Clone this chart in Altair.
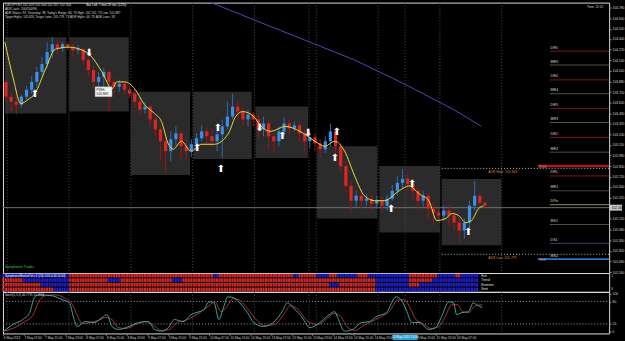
import json
import altair as alt
import pandas as pd

FONT = "Liberation Sans"

# ---------------- time axis (hour index, 0 = 6 May 2013 23:00) ----------------
time_label_hours = [0, 8, 16, 24, 32, 40, 48, 56, 64, 72, 80, 88, 96, 104, 112, 120,
                    128, 136, 144, 160, 168, 176]
time_labels = ["6 May 2013", "7 May 07:00", "7 May 15:00", "7 May 23:00", "8 May 07:00",
               "8 May 15:00", "8 May 23:00", "9 May 07:00", "9 May 15:00", "9 May 23:00",
               "10 May 07:00", "10 May 15:00", "10 May 23:00", "13 May 07:00", "13 May 15:00",
               "13 May 23:00", "14 May 07:00", "14 May 15:00", "14 May 23:00",
               "15 May 15:00", "15 May 23:00", "16 May 07:00"]
cursor_time_hour = 156.0
cursor_time_label = "15 May 2013 11:00"
separator_hours = [1.5, 25.5, 49.5, 73.5, 97.5, 121.5, 145.5, 169.5, 193.5]
extra_separator_hours = [118.7, 156.0]

# ---------------- price axis ----------------
price_ticks = [104.780, 104.650, 104.520, 104.400, 104.270, 104.140, 104.010, 103.880,
               103.750, 103.620, 103.490, 103.370, 103.240, 103.110, 102.980, 102.850,
               102.720, 102.600, 102.470, 102.210, 102.080, 101.950, 101.820,
               101.690, 101.560]
cursor_price = 102.346

# ---------------- two-hour candles ----------------
bar_hours = list(range(1, 188, 2))
first_open = 103.876
closes = [103.696, 103.635, 103.599, 103.696, 103.780, 103.876, 103.997, 104.093, 104.238, 104.334, 104.286, 104.334,
          104.298, 104.262, 104.274, 104.141, 104.021, 103.876, 103.936, 103.997, 103.876, 103.816, 103.852, 103.780,
          103.732, 103.635, 103.539, 103.575, 103.419, 103.298, 103.154, 103.033, 103.178, 103.250, 103.093, 103.033,
          103.117, 103.190, 103.274, 103.214, 103.154, 103.238, 103.334, 103.455, 103.575, 103.515, 103.419, 103.479,
          103.419, 103.298, 103.370, 103.214, 103.154, 103.274, 103.370, 103.310, 103.346, 103.250, 103.154, 103.202,
          103.129, 103.057, 103.154, 103.274, 103.093, 102.852, 102.611, 102.431, 102.491, 102.431, 102.455, 102.394,
          102.431, 102.370, 102.455, 102.551, 102.647, 102.696, 102.635, 102.551, 102.431, 102.491, 102.334, 102.286,
          102.250, 102.310, 102.250, 102.165, 102.069, 102.165, 102.370, 102.491, 102.406, 102.370]
highs = [103.912, 103.756, 103.696, 103.720, 103.828, 103.948, 104.057, 104.177, 104.358, 104.418, 104.382, 104.358,
         104.358, 104.334, 104.322, 104.298, 104.177, 104.069, 103.997, 104.045, 104.021, 103.924, 103.900, 103.876,
         103.828, 103.780, 103.684, 103.635, 103.599, 103.455, 103.334, 103.214, 103.274, 103.334, 103.274, 103.178,
         103.178, 103.250, 103.346, 103.322, 103.298, 103.334, 103.419, 103.635, 103.732, 103.635, 103.587, 103.539,
         103.515, 103.479, 103.455, 103.419, 103.274, 103.334, 103.443, 103.419, 103.394, 103.394, 103.298, 103.274,
         103.250, 103.178, 103.214, 103.370, 103.310, 103.129, 102.913, 102.672, 102.551, 102.551, 102.515, 102.503,
         102.491, 102.479, 102.503, 102.623, 102.732, 102.816, 102.768, 102.672, 102.587, 102.551, 102.527, 102.406,
         102.358, 102.370, 102.370, 102.310, 102.226, 102.214, 102.431, 102.672, 102.527, 102.431]
lows = [103.635, 103.515, 103.479, 103.563, 103.659, 103.732, 103.804, 103.948, 104.045, 104.165, 104.214, 104.238,
        104.262, 104.177, 104.214, 104.081, 103.936, 103.816, 103.816, 103.756, 103.515, 103.732, 103.756, 103.720,
        103.684, 103.563, 103.467, 103.491, 103.334, 103.214, 102.913, 102.768, 102.913, 103.093, 102.937, 102.913,
        102.961, 103.033, 103.154, 103.129, 103.081, 103.033, 102.949, 103.298, 103.419, 103.419, 103.334, 103.334,
        103.334, 103.178, 103.214, 103.057, 103.009, 103.093, 103.214, 103.226, 103.274, 103.154, 103.033, 103.069,
        103.033, 102.961, 103.009, 103.093, 103.009, 102.768, 102.527, 102.310, 102.346, 102.334, 102.370, 102.310,
        102.334, 102.286, 102.310, 102.431, 102.491, 102.575, 102.551, 102.455, 102.310, 102.358, 102.214, 102.129,
        102.165, 102.190, 102.129, 102.069, 101.913, 101.973, 102.093, 102.310, 102.358, 102.346]

# ---------------- yellow smoothed average ----------------
ma_hours = [0.6, 3.7, 6.8, 9.5, 12.2, 16.4, 20.2, 25.6, 30.6, 33.7, 38.3, 42.2, 44.1, 47.2, 51.0, 54.8,
            58.7, 61.4, 64.1, 66.0, 69.1, 72.9, 76.8, 81.8, 87.2, 90.2, 92.9, 97.2, 99.8, 103.7, 109.5,
            115.2, 121.0, 124.8, 128.7, 132.5, 136.4, 140.2, 144.1, 147.9, 153.7, 157.5, 161.4, 165.2,
            168.3, 171.8, 174.1, 176.8, 179.5, 181.8, 184.5, 186.4]
ma_prices = [104.358, 103.936, 103.611, 103.659, 103.732, 104.033, 104.274, 104.298, 104.262, 104.201,
             103.997, 103.792, 103.876, 103.876, 103.792, 103.599, 103.491, 103.394, 103.117, 103.057,
             103.154, 103.033, 103.117, 103.117, 103.238, 103.455, 103.515, 103.455, 103.346, 103.274,
             103.334, 103.274, 103.154, 103.093, 103.154, 103.033, 102.732, 102.491, 102.431, 102.431,
             102.551, 102.611, 102.515, 102.431, 102.190, 102.214, 102.274, 102.250, 102.165, 102.190,
             102.334, 102.370]

# ---------------- slow (purple) average ----------------
slow_hours = [78.7, 88.3, 97.9, 107.5, 117.2, 126.8, 136.4, 146.0, 155.6, 165.2, 174.8, 185.6]
slow_prices = [104.864, 104.744, 104.623, 104.503, 104.382, 104.262, 104.141, 103.997, 103.852,
               103.696, 103.539, 103.334]

# ---------------- session boxes ----------------
box_start = [0.6, 25.6, 49.5, 73.7, 97.9, 121.8, 146.0, 170.2]
box_end = [24.5, 48.7, 72.5, 96.4, 118.3, 145.2, 169.5, 193.3]
box_top = [104.418, 104.418, 103.756, 103.756, 103.575, 103.093, 102.852, 102.696]
box_bottom = [103.491, 103.515, 102.744, 102.937, 102.949, 102.214, 102.045, 101.888]

# ---------------- signal arrows ----------------
arrow_hours = [12.2, 33.3, 75.2, 83.3, 84.5, 99.5, 108.3, 118.3, 129.5, 128.7, 150.6, 158.7, 180.6]
arrow_prices = [103.732, 104.226, 103.069, 103.310, 102.816, 103.310, 103.214, 103.250, 103.262,
                102.949, 102.334, 102.635, 102.045]
arrow_dirs = ["up", "down", "up", "up", "up", "down", "up", "down", "up", "up", "up", "up", "up"]

# ---------------- pivot levels ----------------
level_names = ["DR5", "MR5", "DR4", "MR4", "DR3", "MR3", "DR2", "MR2", "DR1", "MR1", "DPiv", "MS1", "DS1", "MS2"]
level_prices = [104.250, 104.081, 103.900, 103.732, 103.551, 103.382, 103.201, 103.021, 102.732,
                102.551, 102.382, 102.141, 101.912, 101.720]
level_colors = ["#7c1a1a", "#55553c", "#7c1a1a", "#55553c", "#7c1a1a", "#55553c", "#7c1a1a", "#55553c",
                "#7c1a1a", "#44443a", "#8c8c5c", "#55553c", "#3c3c70", "#2f70c8"]
level_widths = [1, 1, 1, 1, 1, 1, 1, 1, 1, 1, 1, 1, 1, 2]
quarter_names = ["R1/4", "S1/4"]
quarter_prices = [102.852, 101.720]
adr_names = ["ADR High: 102.824", "ADR Low: 101.779"]
adr_prices = [102.824, 101.779]

# ---------------- heat map rows ----------------
heat_rows = ["Exit", "Trend", "Extreme", "Sent"]
heat_bounds = [[0, 26, 82, 84, 113, 115, 122, 127, 130, 138, 142, 158, 169, 176, 178, 185],
               [0, 8, 26, 41, 46, 66, 70, 145, 158, 167, 185],
               [0, 15, 26, 127, 131, 145, 158, 162, 185],
               [0, 20, 26, 145, 185]]
heat_colors = ["BRBRBRBRBRBRBRB", "RBRBRBRBRB", "RBRBRBRB", "RBRB"]
heat_palette = {"R": "#d42828", "B": "#1e1ec8"}

# ---------------- stochastic ----------------
k_hours = [0, 3.7, 7.5, 10.2, 12.2, 14.1, 19.1, 22.9, 25.6, 27.5, 28.7, 31.8, 35.2, 38.3, 40.2, 42.2,
           44.8, 48.7, 52.5, 56.4, 58.7, 61.4, 64.1, 66.4, 69.8, 72.9, 74.8, 77.9, 79.8, 81.8, 83.7,
           85.2, 87.2, 89.5, 91.4, 94.8, 97.2, 101.0, 104.8, 108.7, 110.2, 112.5, 115.2, 119.1, 122.9,
           125.6, 128.7, 129.8, 132.5, 135.6, 139.1, 142.2, 144.8, 148.7, 152.5, 154.5, 156.4, 158.7,
           161.4, 165.2, 167.9, 170.2, 172.9, 174.8, 176.0, 177.9, 180.6, 182.5, 183.7, 186.0]
k_vals = [0, 18.4, 31.6, 50.0, 92.1, 97.4, 94.7, 84.2, 76.3, 31.6, 13.2, 26.3, 23.7, 36.8, 44.7, 13.2,
          5.3, 13.2, 23.7, 26.3, 5.3, 1.0, 10.5, 31.6, 26.3, 44.7, 50.0, 57.9, 78.9, 76.3, 31.6, 57.9,
          92.1, 89.5, 78.9, 50.0, 23.7, 13.2, 23.7, 57.9, 76.3, 63.2, 44.7, 10.5, 23.7, 39.5, 52.6, 36.8,
          1.0, 5.3, 23.7, 26.3, 39.5, 50.0, 92.1, 84.2, 57.9, 23.7, 23.7, 5.3, 10.5, 39.5, 78.9, 76.3,
          44.7, 50.0, 52.6, 76.3, 71.1, 63.2]
d_hours = [0, 4.5, 8.3, 11.4, 13.7, 16.0, 19.8, 23.7, 26.8, 29.1, 30.6, 33.7, 36.8, 39.8, 42.2, 44.5,
           47.5, 51.4, 55.2, 58.3, 61.4, 64.5, 67.5, 70.6, 73.7, 76.8, 79.8, 82.2, 84.5, 86.8, 89.1,
           91.4, 94.5, 97.5, 101.4, 105.2, 109.1, 111.4, 114.5, 118.3, 122.2, 125.2, 128.3, 130.6,
           133.7, 136.8, 139.8, 142.9, 146.0, 149.8, 153.3, 155.6, 157.9, 160.2, 162.9, 166.0, 169.1,
           171.4, 174.1, 176.4, 178.3, 180.6, 183.3, 186.0]
d_vals = [0.5, 10.5, 26.3, 42.1, 78.9, 94.7, 97.4, 89.5, 71.1, 36.8, 21.1, 23.7, 28.9, 36.8, 31.6, 10.5,
          7.9, 18.4, 26.3, 15.8, 2.6, 5.3, 23.7, 28.9, 39.5, 52.6, 68.4, 78.9, 52.6, 65.8, 86.8, 84.2,
          63.2, 36.8, 15.8, 18.4, 47.4, 68.4, 57.9, 26.3, 18.4, 31.6, 47.4, 42.1, 10.5, 2.6, 15.8, 26.3,
          36.8, 52.6, 84.2, 84.2, 63.2, 31.6, 21.1, 7.9, 13.2, 36.8, 71.1, 71.1, 52.6, 50.0, 68.4, 71.1]
sto_levels = [20, 80]

# =====================================================================
W = 612
H_MAIN, H_HEAT, H_STO = 273, 19, 42
xs = alt.Scale(domain=[-0.154, 235.23], nice=False, zero=False)
ys_main = alt.Scale(domain=[101.551, 104.840], nice=False, zero=False)
ys_sto = alt.Scale(domain=[-5.3, 105.3], nice=False, zero=False)

main_axis = alt.Axis(orient="right", values=price_ticks, format=".3f", labelFontSize=3.3,
                     labelColor="#d6d6d6", tickColor="#8a8a8a", tickSize=2, domain=False,
                     grid=False, labelPadding=1, labelOverlap=False, labelFlush=False,
                     title=None, labelFont=FONT)


def XH(f):
    return alt.X(f, type="quantitative", scale=xs, axis=None)


def YM(f):
    return alt.Y(f, type="quantitative", scale=ys_main, axis=main_axis)


def label(text, x, y, size=3.3, color="#d8d8d8", align="left", weight="normal"):
    return alt.Chart(pd.DataFrame({"t": [text]})).mark_text(
        align=align, baseline="middle", fontSize=size, color=color, fontWeight=weight, font=FONT
    ).encode(x=alt.value(x), y=alt.value(y), text="t:N")


# ---- main panel data ----
opens = [first_open] + closes[:-1]
candles = pd.DataFrame({"h": bar_hours, "open": opens, "close": closes, "high": highs, "low": lows})
up = [c >= o for o, c in zip(opens, closes)]
candles["body"] = ["#3b8fe6" if u else "#e02424" for u in up]
candles["wick"] = ["#2c6bb3" if u else "#a01515" for u in up]
candles["h0"] = candles["h"] - 0.62
candles["h1"] = candles["h"] + 0.62

boxes = pd.DataFrame({"a": box_start, "b": box_end, "t": box_top, "u": box_bottom})
seps = pd.DataFrame({"h": separator_hours + extra_separator_hours})
levels = pd.DataFrame({"n": level_names, "p": level_prices, "c": level_colors, "w": level_widths})
levels["a"] = 212.2
levels["b"] = 235.2
levels.loc[levels["n"] == "MS2", "a"] = 207.5
levels["lx"] = 212.5
quarters = pd.DataFrame({"n": quarter_names, "p": quarter_prices, "lx": 208.0})
red_quarter = pd.DataFrame({"p": [quarter_prices[0]], "a": [207.5], "b": [235.2]})
adr = pd.DataFrame({"n": adr_names, "p": adr_prices, "a": 170.2, "b": 235.2, "lx": 188.3})
ma = pd.DataFrame({"h": ma_hours, "p": ma_prices})
slow = pd.DataFrame({"h": slow_hours, "p": slow_prices})
arrows = pd.DataFrame({"h": arrow_hours, "p": arrow_prices, "d": arrow_dirs})
arrows["s"] = ["\u2b06" if d == "up" else "\u2b07" for d in arrows["d"]]
cursor = pd.DataFrame({"p": [cursor_price], "hi": [cursor_price + 0.036], "lo": [cursor_price - 0.036],
                       "a": [-0.154], "b": [235.2], "t": [f"{cursor_price:.3f}"]})

box_layer = alt.Chart(boxes).mark_rect(color="#2b2b2b").encode(
    x=XH("a"), x2=alt.X2("b"), y=YM("t"), y2=alt.Y2("u"))
sep_layer = alt.Chart(seps).mark_rule(color="#4e4e4e", strokeDash=[1, 2], strokeWidth=1).encode(x=XH("h"))
cross_layer = alt.Chart(cursor).mark_rule(color="#707070", strokeWidth=1).encode(
    x=XH("a"), x2=alt.X2("b"), y=YM("p"))
level_layer = alt.Chart(levels).mark_rule().encode(
    x=XH("a"), x2=alt.X2("b"), y=YM("p"), color=alt.Color("c:N", scale=None),
    strokeWidth=alt.StrokeWidth("w:Q", scale=None))
quarter_red = alt.Chart(red_quarter).mark_rule(color="#a81c1c", strokeWidth=2.5).encode(
    x=XH("a"), x2=alt.X2("b"), y=YM("p"))
adr_layer = alt.Chart(adr).mark_rule(color="#bdbdbd", strokeDash=[1, 2], strokeWidth=1).encode(
    x=XH("a"), x2=alt.X2("b"), y=YM("p"))
adr_text = alt.Chart(adr).mark_text(align="left", baseline="top", dy=1.5, fontSize=3.4,
                                    color="#d08a3c", font=FONT).encode(
    x=XH("lx"), y=YM("p"), text="n:N")
level_text = alt.Chart(levels).mark_text(align="left", baseline="bottom", dy=-1.5, fontSize=3.6,
                                         color="#d8d8d8", font=FONT).encode(
    x=XH("lx"), y=YM("p"), text="n:N")
quarter_text = alt.Chart(quarters).mark_text(align="left", baseline="middle", dy=1, fontSize=3.4,
                                             color="#d8a060", font=FONT).encode(
    x=XH("lx"), y=YM("p"), text="n:N")
slow_layer = alt.Chart(slow).mark_line(color="#4b4bb4", strokeWidth=1, clip=True,
                                       interpolate="monotone").encode(x=XH("h"), y=YM("p"))
wick_layer = alt.Chart(candles).mark_rule(strokeWidth=1).encode(
    x=XH("h"), y=YM("low"), y2=alt.Y2("high"), color=alt.Color("wick:N", scale=None))
body_layer = alt.Chart(candles).mark_rect().encode(
    x=XH("h0"), x2=alt.X2("h1"), y=YM("open"), y2=alt.Y2("close"), color=alt.Color("body:N", scale=None))
ma_layer = alt.Chart(ma).mark_line(color="#e6dc3c", strokeWidth=1, interpolate="monotone").encode(
    x=XH("h"), y=YM("p"))
arrow_layer = alt.Chart(arrows).mark_text(fontSize=10, color="white", font="DejaVu Sans",
                                          baseline="middle").encode(
    x=XH("h"), y=YM("p"), text="s:N")
price_box = alt.Chart(cursor).mark_rect(color="#c8c8c8").encode(
    x=alt.value(612.5), x2=alt.value(625), y=YM("hi"), y2=alt.Y2("lo"))
price_txt = alt.Chart(cursor).mark_text(align="left", baseline="middle", fontSize=3.3, color="black",
                                        font=FONT).encode(x=alt.value(614.5), y=YM("p"), text="t:N")
note_box = alt.Chart(pd.DataFrame({"a": [35.6], "b": [42.2], "t": [103.816], "u": [103.696]})).mark_rect(
    color="#f2f2f2", stroke="#999999", strokeWidth=0.5).encode(
    x=XH("a"), x2=alt.X2("b"), y=YM("t"), y2=alt.Y2("u"))
note_txt = alt.Chart(pd.DataFrame({"h": [36.1, 36.1], "p": [103.782, 103.732],
                                   "t": ["PWHi", "103,869"]})).mark_text(
    align="left", baseline="middle", fontSize=3.3, color="#222222", font=FONT).encode(
    x=XH("h"), y=YM("p"), text="t:N")

main = alt.layer(
    box_layer, sep_layer, cross_layer, level_layer, quarter_red, adr_layer, slow_layer,
    wick_layer, body_layer, ma_layer, arrow_layer, level_text, quarter_text, adr_text,
    note_box, note_txt, price_box, price_txt,
    label("USDJPY,H1  102.419 102.444 102.307 102.358", 2, 2.8, 3.2),
    label("Bar Left: 7 min 29 sec (12%)", 84, 2.8, 3.2, "#ffffff"),
    label("ADR Lock: 100/100/96", 2, 6.8, 3.2),
    label("ADR Values: 93, Yesterday: 98, Today's Range: 66, TV High: 102.702, TV Low: 101.897", 2, 10.8, 3.0),
    label("Target Highs: 102.824, Target Lows: 101.779, TV ADR Highs: 46, TV ADR Lows: 59", 2, 14.8, 3.0),
    label("Time: 11:52", 606, 4, 3.2, "#d8d8d8", "right"),
    label("Symphonie Trader", 2, 266.5, 3.6, "#3fc04a"),
).properties(width=W, height=H_MAIN)

# ---- heat map panel ----
cells = []
for name, bounds, cols in zip(heat_rows, heat_bounds, heat_colors):
    for a, b, c in zip(bounds[:-1], bounds[1:], cols):
        for h in range(a, b):
            cells.append({"row": name, "h0": h - 0.45, "h1": h + 0.4, "c": heat_palette[c]})
cells = pd.DataFrame(cells)
heat_y = alt.Y("row:N", sort=heat_rows, scale=alt.Scale(paddingInner=0.22, paddingOuter=0.15), axis=None)
heat_cells = alt.Chart(cells).mark_rect().encode(
    x=XH("h0"), x2=alt.X2("h1"), y=heat_y, color=alt.Color("c:N", scale=None))
heat_names = alt.Chart(pd.DataFrame({"row": heat_rows, "h": 185.6})).mark_text(
    align="left", baseline="middle", fontSize=3.3, color="#e0e0e0", font=FONT).encode(
    x=XH("h"), y=heat_y, text="row:N")
heat = alt.layer(
    heat_cells, heat_names,
    label("SymphonieMarketCtrl v1 (20) 0.00 0.00 (4.00)", 2, 3.2, 3.0, "#ffffff"),
    label("1", 614, 3, 3.2), label("0", 614, 16, 3.2),
).properties(width=W, height=H_HEAT)

# ---- stochastic panel ----
label_expr = (json.dumps(time_labels) + "[indexof(" + json.dumps(time_label_hours) + ", datum.value)]")
time_axis = alt.Axis(values=time_label_hours, labelExpr=label_expr, labelAlign="left",
                     labelFontSize=3.2, labelColor="#d0d0d0", tickSize=2, tickColor="#777777",
                     domain=False, grid=False, labelPadding=0.5, labelOverlap=False,
                     labelFlush=False, title=None, labelFont=FONT)
sto_axis = alt.Axis(orient="right", values=[0, 20, 80, 100], labelFontSize=3.3, labelColor="#d6d6d6",
                    tickColor="#8a8a8a", tickSize=2, domain=False, grid=False, labelPadding=1,
                    labelOverlap=False, labelFlush=False, title=None, labelFont=FONT)


def XS(f):
    return alt.X(f, type="quantitative", scale=xs, axis=time_axis)


def YS(f):
    return alt.Y(f, type="quantitative", scale=ys_sto, axis=sto_axis)


k_df = pd.DataFrame({"h": k_hours, "v": k_vals})
d_df = pd.DataFrame({"h": d_hours, "v": d_vals})
lvl_df = pd.DataFrame({"v": sto_levels, "a": -0.154, "b": 235.2})
sto_lvl = alt.Chart(lvl_df).mark_rule(color="#9a9a9a", strokeDash=[1, 2]).encode(
    x=XS("a"), x2=alt.X2("b"), y=YS("v"))
sto_sep = alt.Chart(seps).mark_rule(color="#4e4e4e", strokeDash=[1, 2]).encode(x=XS("h"))
sto_d = alt.Chart(d_df).mark_line(color="#b03232", strokeWidth=1, interpolate="monotone").encode(
    x=XS("h"), y=YS("v"))
sto_k = alt.Chart(k_df).mark_line(color="#3aa6a0", strokeWidth=1, interpolate="monotone").encode(
    x=XS("h"), y=YS("v"))
hl = pd.DataFrame({"a": [cursor_time_hour - 4.8], "b": [cursor_time_hour + 4.8],
                   "h": [cursor_time_hour], "t": [cursor_time_label]})
hl_box = alt.Chart(hl).mark_rect(color="#2b9fd9").encode(
    x=XS("a"), x2=alt.X2("b"), y=alt.value(H_STO + 1.2), y2=alt.value(H_STO + 6.8))
hl_txt = alt.Chart(hl).mark_text(fontSize=3.1, color="#ffffff", baseline="middle", font=FONT).encode(
    x=XS("h"), y=alt.value(H_STO + 4), text="t:N")
sto = alt.layer(
    sto_lvl, sto_sep, sto_d, sto_k, hl_box, hl_txt,
    label("Stoch(5,3,3) 46.7791 55.3016", 2, 3.5, 3.0, "#d8d8d8"),
).properties(width=W, height=H_STO)

chart = alt.vconcat(main, heat, sto, spacing=0, bounds="flush").properties(
    padding=0, background="black"
).configure_view(stroke="#5a5a5a", strokeWidth=1, fill="black").configure(font=FONT)

chart.save("out.html", embed_options={"renderer": "svg", "actions": False})
